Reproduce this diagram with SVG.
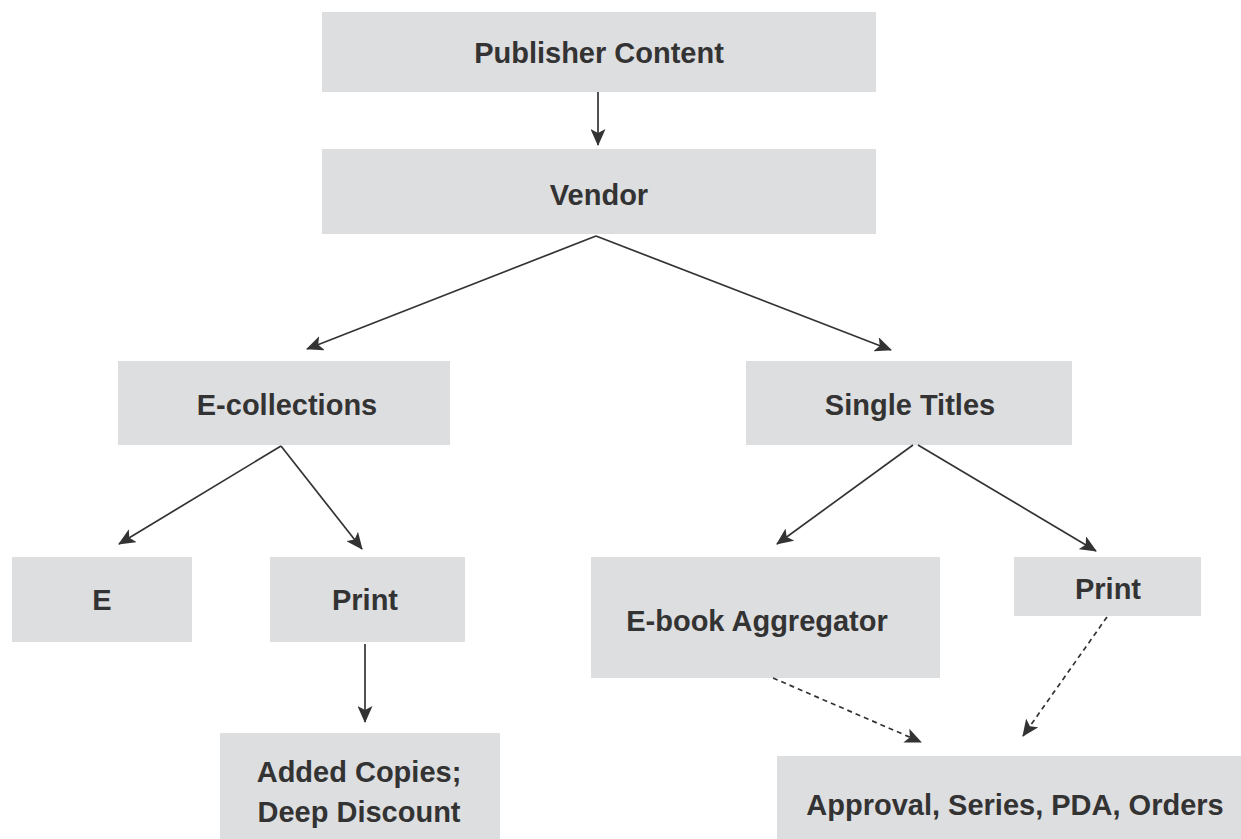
<svg xmlns="http://www.w3.org/2000/svg" width="1241" height="839" viewBox="0 0 1241 839">
<style>
.box{fill:#dddee0}
.t{font-family:"Liberation Sans",Arial,sans-serif;font-weight:bold;font-size:29px;fill:#333333;text-anchor:middle}
.c{stroke:#333333;stroke-width:1.7;fill:none}
.d{stroke-dasharray:5,4}
</style>
<defs>
<marker id="ah" markerUnits="userSpaceOnUse" markerWidth="17" markerHeight="15" refX="16" refY="7.5" orient="auto">
<path d="M0,0 L17,7.5 L0,15 L4,7.5 Z" fill="#333333"/>
</marker>
</defs>
<rect width="1241" height="839" fill="#ffffff"/>
<g id="publisher"><rect class="box" x="322" y="12" width="554" height="80"/><text class="t" x="599" y="63">Publisher Content</text></g>
<g id="vendor"><rect class="box" x="322" y="149" width="554" height="85"/><text class="t" x="599" y="205">Vendor</text></g>
<g id="ecollections"><rect class="box" x="118" y="361" width="332" height="84"/><text class="t" x="287" y="415">E-collections</text></g>
<g id="singletitles"><rect class="box" x="746" y="361" width="326" height="84"/><text class="t" x="910" y="415">Single Titles</text></g>
<g id="e"><rect class="box" x="12" y="557" width="180" height="85"/><text class="t" x="102" y="610">E</text></g>
<g id="print1"><rect class="box" x="270" y="557" width="195" height="85"/><text class="t" x="365" y="610">Print</text></g>
<g id="added"><rect class="box" x="220" y="733" width="280" height="106"/><text class="t" x="359" y="782">Added Copies;</text><text class="t" x="359" y="822">Deep Discount</text></g>
<g id="ebook"><rect class="box" x="591" y="557" width="349" height="121"/><text class="t" x="757" y="631">E-book Aggregator</text></g>
<g id="print2"><rect class="box" x="1014" y="557" width="187" height="59"/><text class="t" x="1108" y="599">Print</text></g>
<g id="approval"><rect class="box" x="777" y="756" width="464" height="83"/><text class="t" x="1015" y="815">Approval, Series, PDA, Orders</text></g>
<g id="connectors">
<line class="c" x1="598" y1="92" x2="598" y2="145" marker-end="url(#ah)"/>
<line class="c" x1="596" y1="236" x2="307" y2="349" marker-end="url(#ah)"/>
<line class="c" x1="596" y1="236" x2="891" y2="350" marker-end="url(#ah)"/>
<line class="c" x1="281" y1="446" x2="119" y2="544" marker-end="url(#ah)"/>
<line class="c" x1="281" y1="446" x2="362" y2="549" marker-end="url(#ah)"/>
<line class="c" x1="365" y1="644" x2="365" y2="722" marker-end="url(#ah)"/>
<line class="c" x1="913" y1="445" x2="777" y2="544" marker-end="url(#ah)"/>
<line class="c" x1="918" y1="445" x2="1096" y2="551" marker-end="url(#ah)"/>
<line class="c d" x1="773" y1="678" x2="921" y2="742" marker-end="url(#ah)"/>
<line class="c d" x1="1107" y1="617" x2="1023" y2="736" marker-end="url(#ah)"/>
</g>
</svg>
